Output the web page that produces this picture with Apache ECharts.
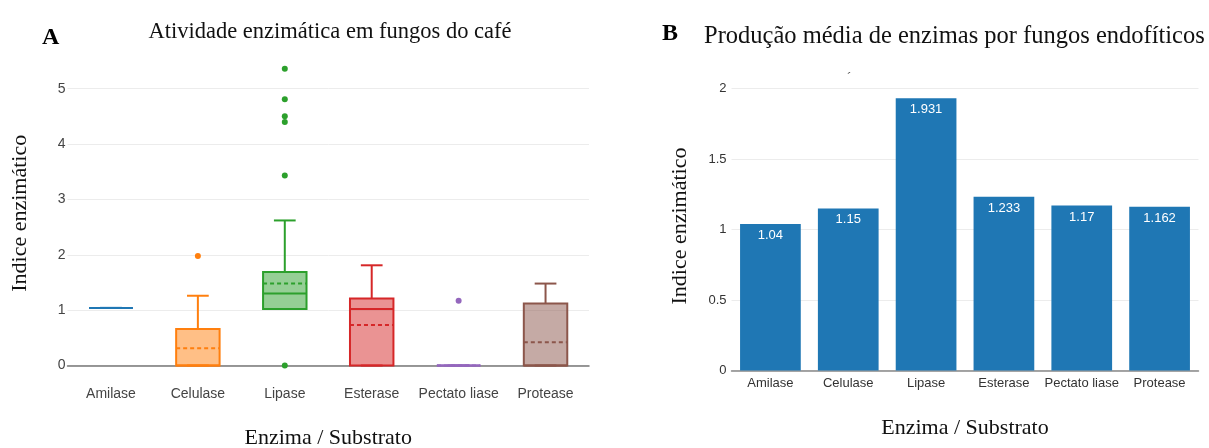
<!DOCTYPE html>
<html>
<head>
<meta charset="utf-8">
<script src="https://cdn.jsdelivr.net/npm/echarts@6/dist/echarts.min.js"></script>
<style>
  html, body { margin: 0; padding: 0; background: #fff; }
  #chart { width: 1209px; height: 448px; }
</style>
</head>
<body>
<div id="chart"></div>
<script>
// Enzymes tested
const categories = ['Amilase', 'Celulase', 'Lipase', 'Esterase', 'Pectato liase', 'Protease'];

// Panel A: box statistics of the enzymatic index per enzyme
const whiskerLow = [1.04, 0, 1.02, 0, 0, 0];
const q1 = [1.04, 0, 1.02, 0, 0, 0];
const median = [1.04, 0, 1.30, 1.02, 0, 0];
const q3 = [1.04, 0.66, 1.69, 1.21, 0, 1.12];
const whiskerHigh = [1.04, 1.26, 2.62, 1.81, 0, 1.48];
const mean = [1.04, 0.31, 1.48, 0.73, 0, 0.42];
// Outlying isolates: [category index, value]
const outliers = [
  [1, 1.98],
  [2, 0], [2, 3.43], [2, 4.40], [2, 4.50], [2, 4.81], [2, 5.36],
  [4, 1.17]
];
const ticksA = [0, 1, 2, 3, 4, 5];

// Panel B: mean enzyme production by endophytic fungi
const meanProduction = [1.04, 1.15, 1.931, 1.233, 1.17, 1.162];
const ticksB = [0, 0.5, 1, 1.5, 2];

const palette = ['#1f77b4', '#ff7f0e', '#2ca02c', '#d62728', '#9467bd', '#8c564b'];
const fills = ['rgba(31,119,180,0.5)', 'rgba(255,127,14,0.5)', 'rgba(44,160,44,0.5)',
               'rgba(214,39,40,0.5)', 'rgba(148,103,189,0.5)', 'rgba(140,86,75,0.5)'];

const boxData = categories.map((c, i) =>
  [i, whiskerLow[i], q1[i], median[i], q3[i], whiskerHigh[i], mean[i]]);

function renderBox(params, api) {
  const i = api.value(0);
  const band = api.size([1, 0])[0];
  const half = band * 0.25;
  const cap = band * 0.125;
  const x = api.coord([i, 0])[0];
  const y = v => api.coord([i, api.value(v)])[1];
  const yLow = y(1), yQ1 = y(2), yMed = y(3), yQ3 = y(4), yHigh = y(5), yMean = y(6);
  const stroke = palette[i];
  const lineStyle = { stroke: stroke, lineWidth: 2, fill: null };
  const children = [
    { type: 'line', shape: { x1: x, y1: yQ3, x2: x, y2: yHigh }, style: lineStyle },
    { type: 'line', shape: { x1: x - cap, y1: yHigh, x2: x + cap, y2: yHigh }, style: lineStyle },
    { type: 'line', shape: { x1: x, y1: yQ1, x2: x, y2: yLow }, style: lineStyle },
    { type: 'line', shape: { x1: x - cap, y1: yLow, x2: x + cap, y2: yLow }, style: lineStyle },
    { type: 'rect', shape: { x: x - half, y: yQ3, width: half * 2, height: yQ1 - yQ3 },
      style: { fill: fills[i], stroke: stroke, lineWidth: 2 } },
    { type: 'line', shape: { x1: x - half, y1: yMed, x2: x + half, y2: yMed }, style: lineStyle },
    { type: 'line', shape: { x1: x - half, y1: yMean, x2: x + half, y2: yMean },
      style: { stroke: stroke, lineWidth: 2, lineDash: [4, 3], fill: null } }
  ];
  return { type: 'group', children: children };
}

const sans = 'Liberation Sans, Arial, sans-serif';
const serif = 'Liberation Serif, Times New Roman, serif';

const option = {
  animation: false,
  backgroundColor: '#fff',
  title: [
    { text: 'Atividade enzimática em fungos do café', left: 325, top: 16, textAlign: 'center',
      textStyle: { fontFamily: serif, fontSize: 22.5, fontWeight: 'normal', color: '#111' } },
    { text: 'Produção média de enzimas por fungos endofíticos', left: 699, top: 19,
      textStyle: { fontFamily: serif, fontSize: 24.5, fontWeight: 'normal', color: '#111' } }
  ],
  graphic: [
    { type: 'text', left: 42, top: 26, style: { text: 'A', font: 'bold 24px ' + serif, fill: '#000' } },
    { type: 'text', left: 662, top: 22, style: { text: 'B', font: 'bold 24px ' + serif, fill: '#000' } },
    { type: 'text', left: 847, top: 62, style: { text: '\u02CF', font: 'italic 12px ' + serif, fill: '#444' } }
  ],
  grid: [
    { left: 67.5, right: 620, top: 61, bottom: 82.5, outerBoundsMode: 'none', containLabel: false },
    { left: 731.5, right: 10.5, top: 81.5, bottom: 77.5, outerBoundsMode: 'none', containLabel: false }
  ],
  xAxis: [
    { type: 'category', gridIndex: 0, data: categories,
      name: 'Enzima / Substrato', nameLocation: 'middle', nameGap: 62,
      nameTextStyle: { fontFamily: serif, fontSize: 22, color: '#111' },
      axisLine: { lineStyle: { color: '#777', width: 1.5 } },
      axisTick: { show: false },
      axisLabel: { interval: 0, fontFamily: sans, fontSize: 14, color: '#444', margin: 22 } },
    { type: 'category', gridIndex: 1, data: categories,
      name: 'Enzima / Substrato', nameLocation: 'middle', nameGap: 47,
      nameTextStyle: { fontFamily: serif, fontSize: 22, color: '#111' },
      axisLine: { lineStyle: { color: '#888', width: 1.5 } },
      axisTick: { show: false },
      axisLabel: { interval: 0, fontFamily: sans, fontSize: 13, color: '#333', margin: 6 } }
  ],
  yAxis: [
    { type: 'value', gridIndex: 0, min: 0, max: 5.5,
      name: 'Indice enzimático', nameLocation: 'middle', nameGap: 36,
      nameTextStyle: { fontFamily: serif, fontSize: 22, color: '#111' },
      axisLine: { show: false },
      axisTick: { show: false, customValues: ticksA },
      axisLabel: { customValues: ticksA, fontFamily: sans, fontSize: 14, color: '#444', margin: 2 },
      splitLine: { lineStyle: { color: '#ececec', width: 1 } } },
    { type: 'value', gridIndex: 1, min: 0, max: 2.05,
      name: 'Indice enzimático', nameLocation: 'middle', nameGap: 40,
      nameTextStyle: { fontFamily: serif, fontSize: 22, color: '#111' },
      axisLine: { show: false },
      axisTick: { show: false, customValues: ticksB },
      axisLabel: { customValues: ticksB, fontFamily: sans, fontSize: 13, color: '#333', margin: 5 },
      splitLine: { lineStyle: { color: '#ececec', width: 1 } } }
  ],
  series: [
    { type: 'custom', xAxisIndex: 0, yAxisIndex: 0, data: boxData,
      renderItem: renderBox, z: 3 },
    { type: 'scatter', xAxisIndex: 0, yAxisIndex: 0, data: outliers,
      symbolSize: 6, z: 4,
      itemStyle: { opacity: 1, color: p => palette[p.value[0]] } },
    { type: 'bar', xAxisIndex: 1, yAxisIndex: 1, data: meanProduction,
      barCategoryGap: '22%',
      itemStyle: { color: '#1f77b4' },
      label: { show: true, position: 'insideTop', distance: 5, color: '#fff',
               fontFamily: sans, fontSize: 13 } }
  ]
};

echarts.init(document.getElementById('chart'), null, { renderer: 'canvas' }).setOption(option);
</script>
</body>
</html>
